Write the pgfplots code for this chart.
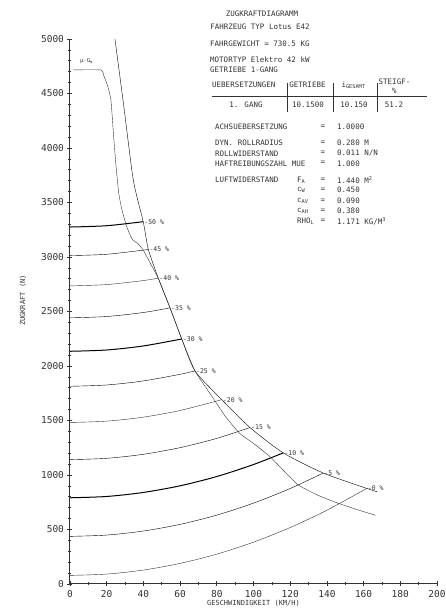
\documentclass[border=0pt]{standalone}
\usepackage{fontspec}
\setmainfont{DejaVu Sans Mono}
\usepackage{pgfplots}
\pgfplotsset{compat=1.18}
\definecolor{ink}{gray}{0.2}
\tikzset{lab/.style={font=\fontsize{6.5}{7}\selectfont, text=ink, anchor=west, inner sep=1pt}}
\begin{document}
\begin{tikzpicture}[x=1pt,y=1pt]
\path[use as bounding box] (-70,-24) rectangle (375,584);
\begin{axis}[
  at={(0,0)}, anchor=south west,
  scale only axis, width=367pt, height=545pt,
  xmin=0, xmax=200, ymin=0, ymax=5000,
  axis x line*=bottom, axis y line*=left,
  axis line style={ink, line width=1pt},
  xtick={0,20,...,200}, ytick={0,500,...,5000},
  minor x tick num=1, minor y tick num=4,
  tick align=center, major tick length=5pt, minor tick length=3pt,
  tick style={ink, line width=0.7pt},
  ticklabel style={font=\fontsize{9.5}{10}\selectfont, text=ink},
  /pgf/number format/assume math mode=true,
  /pgf/number format/1000 sep={},
  xlabel={GESCHWINDIGKEIT (KM/H)}, ylabel={ZUGKRAFT (N)},
  label style={font=\fontsize{7}{8}\selectfont, text=ink},
  xlabel style={at={(axis description cs:0.5,-0.035)}, anchor=center},
  ylabel style={at={(axis description cs:-0.128,0.52)}, anchor=center},
  clip=false,
  cycle list={{ink, solid, line width=1pt, mark=none}},
  no marks,
]
% grade resistance curves
\addplot+[smooth] coordinates {(0,79) (20,91) (40,128) (60,189) (80,274) (100,384) (120,518) (140,677) (161.7,877)};
\addplot+[smooth] coordinates {(0,437) (20,449) (40,486) (60,547) (80,632) (100,742) (120,876) (138,1018)};
\addplot+[smooth] coordinates {(0,791) (20,803) (40,840) (60,901) (80,986) (100,1096) (116.2,1203)};
\addplot+[smooth] coordinates {(0,1141) (20,1153) (40,1190) (60,1251) (80,1336) (98.1,1435)};
\addplot+[smooth] coordinates {(0,1482) (20,1494) (40,1531) (60,1592) (82.7,1691)};
\addplot+[smooth] coordinates {(0,1814) (20,1826) (40,1863) (60,1924) (68.1,1955)};
\addplot+[smooth] coordinates {(0,2135) (20,2147) (40,2184) (60.9,2248)};
\addplot+[smooth] coordinates {(0,2442) (20,2454) (40,2491) (54.5,2533)};
\addplot+[smooth] coordinates {(0,2735) (20,2747) (40,2784) (48.1,2806)};
\addplot+[smooth] coordinates {(0,3013) (20,3025) (42.7,3069)};
\addplot+[smooth] coordinates {(0,3275) (20,3287) (39.9,3324)};
% engine tractive force (outer curve)
\addplot+[smooth, tension=0.4] coordinates {(24.5,5000) (29.5,4360) (34.5,3706) (39.9,3324) (42.7,3069) (48.1,2806) (54.5,2533) (60.9,2248) (68.1,1955) (82.7,1691) (98.1,1435) (116.2,1203) (138,1018) (161.7,877) (167.5,845)};
% adhesion-limited curve (inner curve)
\addplot+[smooth, tension=0.3] coordinates {(1.8,4716) (16.7,4716) (18.5,4660) (20.5,4570) (22.3,4440) (23.6,4150) (25,3850) (26.6,3580) (28.5,3420) (30.9,3278) (33.6,3172) (35.5,3140) (37.2,3120) (39.9,3064) (44,2935) (48.1,2806) (54.5,2533) (60.9,2248) (68.1,1955) (77,1730) (85,1530) (92.6,1380) (100,1290) (109,1168) (117,1030) (124.4,908) (135,815) (146.2,740) (157,680) (166.5,630)};
% labels
\node[lab] at (axis cs:39.9,3324) {-50 \%};
\node[lab] at (axis cs:42.7,3069) {-45 \%};
\node[lab] at (axis cs:48.1,2806) {-40 \%};
\node[lab] at (axis cs:54.5,2533) {-35 \%};
\node[lab] at (axis cs:60.9,2248) {-30 \%};
\node[lab] at (axis cs:68.1,1955) {-25 \%};
\node[lab] at (axis cs:82.7,1691) {-20 \%};
\node[lab] at (axis cs:98.1,1435) {-15 \%};
\node[lab] at (axis cs:116.2,1203) {-10 \%};
\node[lab] at (axis cs:138,1018) {-5 \%};
\node[lab] at (axis cs:161.7,877) {-0 \%};
\node[font=\fontsize{5.5}{6}\selectfont, text=ink, anchor=south] at (axis cs:9,4740) {μ·G\textsubscript{m}};
\end{axis}
% text block
\begin{scope}[every node/.style={font=\fontsize{7.5}{8}\selectfont, text=ink, inner sep=0pt}]
\node at (192,570) {ZUGKRAFTDIAGRAMM};
\node at (190,557) {FAHRZEUG TYP Lotus  E42};
\node[anchor=west] at (140,540) {FAHRGEWICHT =   730.5 KG};
\node[anchor=west] at (140,524) {MOTORTYP Elektro 42 kW};
\node[anchor=west] at (140,514) {GETRIEBE  1-GANG};
\node[anchor=west] at (142,499) {UEBERSETZUNGEN};
\node at (237.5,499) {GETRIEBE};
\node at (283.5,499) {i\textsubscript{GESAMT}};
\node at (324.5,502) {STEIGF-};
\node at (324.5,493) {\%};
\node at (176,479) {1. GANG};
\node at (238,479) {10.1500};
\node at (284,479) {10.150};
\node at (324,479) {51.2};
\node[anchor=west] at (145,457) {ACHSUEBERSETZUNG};
\node[anchor=west] at (145,441.3) {DYN. ROLLRADIUS};
\node[anchor=west] at (145,430.7) {ROLLWIDERSTAND};
\node[anchor=west] at (145,420.7) {HAFTREIBUNGSZAHL  MUE};
\node[anchor=west] at (145,404) {LUFTWIDERSTAND};
\node[anchor=west] at (227,404) {F\textsubscript{A}};
\node[anchor=west] at (227,394) {c\textsubscript{W}};
\node[anchor=west] at (227,383) {c\textsubscript{AV}};
\node[anchor=west] at (227,373.3) {c\textsubscript{AH}};
\node[anchor=west] at (227,363) {RHO\textsubscript{L}};
\node at (253,457) {=};
\node at (253,441.3) {=};
\node at (253,430.7) {=};
\node at (253,420.7) {=};
\node at (253,404) {=};
\node at (253,394) {=};
\node at (253,383) {=};
\node at (253,373.3) {=};
\node at (253,363) {=};
\node[anchor=west] at (267,457) {1.0000};
\node[anchor=west] at (267,441.3) {0.280 M};
\node[anchor=west] at (267,430.7) {0.011 N/N};
\node[anchor=west] at (267,420.7) {1.000};
\node[anchor=west] at (267,404) {1.440 M\textsuperscript{2}};
\node[anchor=west] at (267,394) {0.450};
\node[anchor=west] at (267,383) {0.090};
\node[anchor=west] at (267,373.3) {0.380};
\node[anchor=west] at (267,363) {1.171 KG/M\textsuperscript{3}};
\end{scope}
\draw[ink, line width=1pt] (142,487) -- (357,487);
\draw[ink, line width=0.6pt] (217,501) -- (217,472) (263,501) -- (263,472) (307,501) -- (307,472);
\end{tikzpicture}
\end{document}
